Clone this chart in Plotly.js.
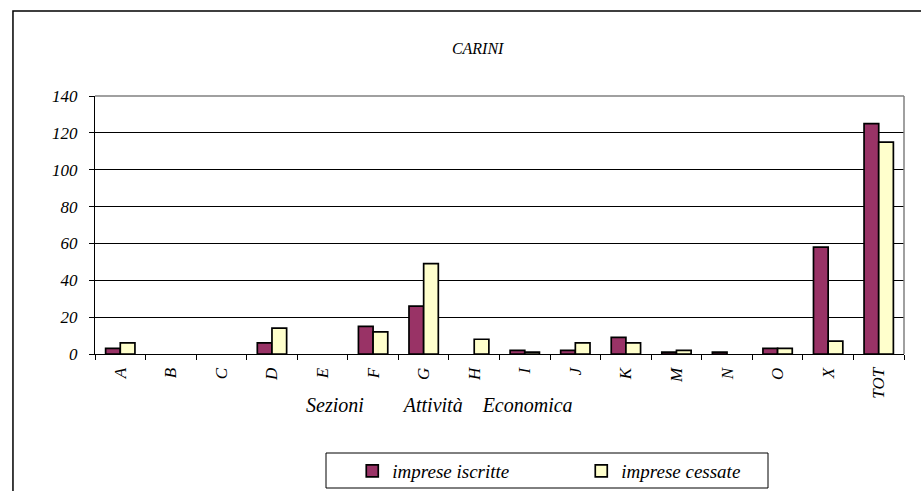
<!DOCTYPE html>
<html>
<head>
<meta charset="utf-8">
<script src="https://cdn.plot.ly/plotly-3.0.1.min.js"></script>
<style>html,body{margin:0;padding:0;background:#fff;}#chart{width:921px;height:491px;}</style>
</head>
<body>
<div id="chart"></div>
<script>
var categories = ["A","B","C","D","E","F","G","H","I","J","K","M","N","O","X","TOT"];
var impreseIscritte = [3,0,0,6,0,15,26,0,2,2,9,1,1,3,58,125];
var impreseCessate  = [6,0,0,14,0,12,49,8,1,6,6,2,0,3,7,115];
var seriesNames = ["imprese iscritte","imprese cessate"];
var chartTitle = "CARINI";
var xTitle = "Sezioni\u00a0\u00a0\u00a0\u00a0\u00a0\u00a0\u00a0\u00a0Attività\u00a0\u00a0\u00a0\u00a0Economica";
var yTicks = [0,20,40,60,80,100,120,140];

var serif = "Liberation Serif";
function hideZero(arr){ return arr.map(function(v){ return v === 0 ? null : v; }); }

var traces = [
  {type:"bar", name:seriesNames[0], x:categories, y:hideZero(impreseIscritte),
   marker:{color:"#993366", line:{color:"#000000", width:1.7}}},
  {type:"bar", name:seriesNames[1], x:categories, y:hideZero(impreseCessate),
   marker:{color:"#FFFFCC", line:{color:"#000000", width:1.7}}}
];

var layout = {
  width:921, height:491,
  margin:{l:95, r:17, t:96, b:137, autoexpand:false},
  paper_bgcolor:"#ffffff", plot_bgcolor:"#ffffff",
  barmode:"group", bargap:0.42, bargroupgap:0,
  font:{family:serif, color:"#000", size:16, style:"italic"},
  title:{text:chartTitle, x:0.473, xref:"paper", y:0.902, yanchor:"middle",
         font:{family:serif, size:16, style:"italic", color:"#000"}},
  xaxis:{type:"category", tickangle:-90, tickson:"boundaries", ticks:"outside", ticklen:5,
         tickcolor:"#000", tickwidth:1, showline:true, linecolor:"#000", linewidth:1,
         showgrid:false, zeroline:false, ticklabelstandoff:6, automargin:false,
         tickfont:{family:serif, size:17, style:"italic", color:"#000"}},
  yaxis:{range:[0,140], tickvals:yTicks, ticks:"outside", ticklen:5, tickcolor:"#000",
         showline:true, linecolor:"#000", linewidth:1, showgrid:true, gridcolor:"#000",
         gridwidth:1, zeroline:false, ticklabelstandoff:8, automargin:false,
         tickfont:{family:serif, size:17, style:"italic", color:"#000"}},
  showlegend:true,
  legend:{orientation:"h", x:0.318, xanchor:"left", y:-0.4535, yanchor:"middle",
          entrywidth:184, entrywidthmode:"pixels", borderwidth:0, bgcolor:"rgba(0,0,0,0)",
          font:{family:serif, size:19, style:"italic", color:"#000"}},
  annotations:[
    {text:xTitle, xref:"paper", yref:"paper", x:0.426, y:-0.198, xanchor:"center", yanchor:"middle",
     showarrow:false, font:{family:serif, size:20, style:"italic", color:"#000"}}
  ],
  shapes:[
    {type:"line", xref:"paper", yref:"paper", x0:0, x1:1, y0:1, y1:1, layer:"above",
     line:{color:"#808080", width:1.5}},
    {type:"line", xref:"paper", yref:"paper", x0:1, x1:1, y0:0, y1:1, layer:"above",
     line:{color:"#808080", width:1.5}},
    {type:"rect", xref:"paper", yref:"paper", x0:-0.1014, x1:1.05, y0:-0.65, y1:1.3295,
     line:{color:"#000", width:1.5}},
    {type:"rect", xref:"paper", yref:"paper", x0:(326-95)/809, x1:(768-95)/809,
     y0:(354-488)/258, y1:(354-453)/258, line:{color:"#000", width:1}}
  ]
};

Plotly.newPlot("chart", traces, layout, {displayModeBar:false, staticPlot:true});
</script>
</body>
</html>
